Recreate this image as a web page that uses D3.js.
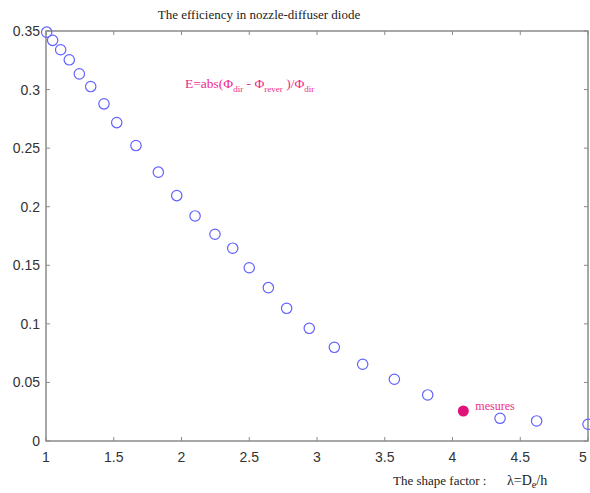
<!DOCTYPE html>
<html>
<head>
<meta charset="utf-8">
<script src="https://cdn.jsdelivr.net/npm/d3@7"></script>
<style>
  body { margin: 0; background: #fff; }
  svg { display: block; }
</style>
</head>
<body>
<div id="chart"></div>
<script>
// shape factor lambda and efficiency E (simulation)
var lambdaVals = [1.005, 1.049, 1.108, 1.172, 1.246, 1.330, 1.428, 1.522, 1.664, 1.829,
                  1.965, 2.100, 2.247, 2.378, 2.500, 2.641, 2.776, 2.943, 3.128, 3.337,
                  3.571, 3.817, 4.351, 4.621, 5.000];
var effVals = [0.349, 0.342, 0.334, 0.3254, 0.3134, 0.3026, 0.2878, 0.2718, 0.2522, 0.2295,
               0.2095, 0.1921, 0.1765, 0.1646, 0.1479, 0.1309, 0.1133, 0.0962, 0.0800, 0.0655,
               0.0527, 0.0393, 0.0194, 0.0171, 0.0143];
// measured point
var mesLambda = [4.080];
var mesEff = [0.0256];

var xTicks = [1, 1.5, 2, 2.5, 3, 3.5, 4, 4.5, 5];
var yTicks = [0, 0.05, 0.1, 0.15, 0.2, 0.25, 0.3, 0.35];

var width = 590, height = 493;
var mLeft = 46, mRight = 588, mTop = 31, mBottom = 441;

var svg = d3.select("#chart").append("svg")
    .attr("width", width)
    .attr("height", height);

var x = d3.scaleLinear().domain([1, 5]).range([mLeft, mRight]);
var y = d3.scaleLinear().domain([0, 0.35]).range([mBottom, mTop]);

var axisColor = "#8a8a8a";
var tickFont = "'Liberation Sans', Arial, sans-serif";
var serif = "'Liberation Serif', 'Times New Roman', serif";

// frame
svg.append("rect")
    .attr("x", mLeft).attr("y", mTop)
    .attr("width", mRight - mLeft).attr("height", mBottom - mTop)
    .attr("fill", "none")
    .attr("stroke", axisColor)
    .attr("stroke-width", 1.5);

// ticks, inward on all four sides
var tl = 4;
var tk = svg.append("g").attr("stroke", axisColor).attr("stroke-width", 1);
xTicks.forEach(function(t) {
    tk.append("line").attr("x1", x(t)).attr("x2", x(t)).attr("y1", mBottom).attr("y2", mBottom - tl);
    tk.append("line").attr("x1", x(t)).attr("x2", x(t)).attr("y1", mTop).attr("y2", mTop + tl);
});
yTicks.forEach(function(t) {
    tk.append("line").attr("x1", mLeft).attr("x2", mLeft + tl).attr("y1", y(t)).attr("y2", y(t));
    tk.append("line").attr("x1", mRight).attr("x2", mRight - tl).attr("y1", y(t)).attr("y2", y(t));
});

// tick labels
svg.append("g").selectAll("text")
    .data(xTicks)
    .enter()
    .append("text")
    .attr("x", function(d) { return Math.min(x(d), 583); })
    .attr("y", 462)
    .attr("text-anchor", "middle")
    .style("font-family", tickFont)
    .style("font-size", "14px")
    .attr("fill", "#333")
    .text(function(d) { return d; });

svg.append("g").selectAll("text")
    .data(yTicks)
    .enter()
    .append("text")
    .attr("x", 40)
    .attr("y", function(d) { return y(d); })
    .attr("dy", "0.36em")
    .attr("text-anchor", "end")
    .style("font-family", tickFont)
    .style("font-size", "14px")
    .attr("fill", "#333")
    .text(function(d) { return d; });

// title
svg.append("text")
    .attr("x", 259).attr("y", 19)
    .attr("text-anchor", "middle")
    .style("font-family", serif)
    .style("font-size", "13px")
    .attr("fill", "#222")
    .text("The efficiency in nozzle-diffuser diode");

// formula
var pink = "#ee2a8c";
var f = svg.append("text")
    .attr("x", 185).attr("y", 88)
    .style("font-family", serif)
    .style("font-size", "13.5px")
    .attr("fill", pink);
f.append("tspan").text("E=abs(\u03A6");
f.append("tspan").attr("dy", 4).style("font-size", "9px").text("dir");
f.append("tspan").attr("dy", -4).text("  -  \u03A6");
f.append("tspan").attr("dy", 4).style("font-size", "9px").text("rever");
f.append("tspan").attr("dy", -4).text(" )/\u03A6");
f.append("tspan").attr("dy", 4).style("font-size", "9px").text("dir");

// simulated points
var pts = lambdaVals.map(function(d, i) { return {l: d, e: effVals[i]}; });
svg.append("g").selectAll("circle")
    .data(pts)
    .enter()
    .append("circle")
    .attr("cx", function(d) { return x(d.l); })
    .attr("cy", function(d) { return y(d.e); })
    .attr("r", 5.2)
    .attr("fill", "none")
    .attr("stroke", "#6262ff")
    .attr("stroke-width", 1.2);

// measured point
svg.append("g").selectAll("circle")
    .data(mesLambda)
    .enter()
    .append("circle")
    .attr("cx", function(d) { return x(d); })
    .attr("cy", function(d, i) { return y(mesEff[i]); })
    .attr("r", 5.5)
    .attr("fill", "#e0127c");

svg.append("text")
    .attr("x", x(mesLambda[0]) + 12)
    .attr("y", y(mesEff[0]) - 1)
    .style("font-family", serif)
    .style("font-size", "12px")
    .attr("fill", pink)
    .text("mesures");

// x label
svg.append("text")
    .attr("x", 393).attr("y", 485)
    .style("font-family", serif)
    .style("font-size", "13px")
    .attr("fill", "#222")
    .text("The shape factor :");

var lx = svg.append("text")
    .attr("x", 507).attr("y", 485)
    .style("font-family", serif)
    .style("font-size", "14px")
    .attr("fill", "#222");
lx.append("tspan").text("\u03BB=D");
lx.append("tspan").attr("dy", 3).style("font-size", "10px").text("e");
lx.append("tspan").attr("dy", -3).text("/h");
</script>
</body>
</html>
